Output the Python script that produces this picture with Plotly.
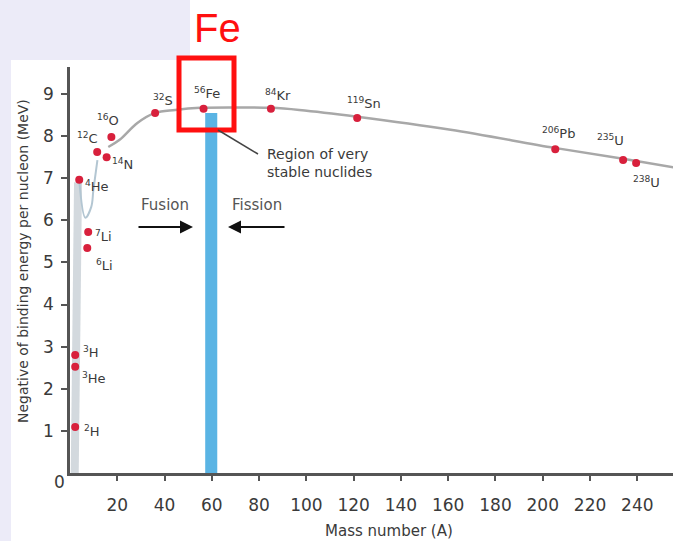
import plotly.graph_objects as go

# ---------------- data ----------------
nuclides = ["2H", "3H", "3He", "4He", "7Li", "6Li", "12C", "14N", "16O",
            "32S", "56Fe", "84Kr", "119Sn", "206Pb", "235U", "238U"]
label_text = ["<sup>2</sup>H", "<sup>3</sup>H", "<sup>3</sup>He", "<sup>4</sup>He",
              "<sup>7</sup>Li", "<sup>6</sup>Li", "<sup>12</sup>C", "<sup>14</sup>N",
              "<sup>16</sup>O", "<sup>32</sup>S", "<sup>56</sup>Fe", "<sup>84</sup>Kr",
              "<sup>119</sup>Sn", "<sup>206</sup>Pb", "<sup>235</sup>U", "<sup>238</sup>U"]
mass_number = [2.2, 2.2, 2.2, 3.9, 7.7, 7.3, 11.5, 15.5, 17.5,
               36, 56.5, 85, 121.5, 205.3, 234, 239.5]
binding = [1.09, 2.80, 2.52, 6.96, 5.72, 5.34, 7.62, 7.50, 7.98,
           8.55, 8.65, 8.65, 8.43, 7.69, 7.43, 7.36]

curve_A = [16.2, 21, 28.5, 36, 44.5, 55, 70, 85, 97, 121.5, 161, 205, 234, 257]
curve_E = [7.74, 7.91, 8.31, 8.55, 8.62, 8.67, 8.68, 8.67, 8.62, 8.46, 8.15, 7.72, 7.46, 7.24]

band_A = [2.0, 2.4, 3.4]
band_E = [0.0, 3.0, 6.9]

loop_A = [3.9, 6.5, 9.0, 9.9, 11.6]
loop_E = [6.96, 6.06, 6.32, 6.72, 7.43]

stable_A = [57.2, 62.3]
stable_E_top = 8.55

x_ticks = [20, 40, 60, 80, 100, 120, 140, 160, 180, 200, 220, 240]
y_ticks = [1, 2, 3, 4, 5, 6, 7, 8, 9]

# label offsets in pixels (dx, dy downward)
label_dx = [17, 16, 19, 18, 15, 17, -10, 16, -3, 8, 3, 7, 7, 3, -13, 10]
label_dy = [4, -3, 11, 6, 4, 17, -14, 7, -17, -13, -16, -14, -15, -16, -20, 19]

# ---------------- layout helpers ----------------
W, H = 679, 541
L, R, T, B = 70, 6, 67, 68
PW, PH = W - L - R, H - T - B


def px(x):
    return (x - L) / PW


def py(y):
    return (H - B - y) / PH


FONT = "DejaVu Sans"
TXT = "#3a3a3a"

fig = go.Figure()

fig.add_trace(go.Scatter(x=band_A, y=band_E, mode="lines",
                         line=dict(color="#d3d9de", width=8), hoverinfo="skip"))
fig.add_trace(go.Scatter(x=loop_A, y=loop_E, mode="lines", line_shape="spline",
                         line=dict(color="#b3c6d2", width=2), hoverinfo="skip"))
fig.add_trace(go.Scatter(x=curve_A, y=curve_E, mode="lines", line_shape="spline",
                         line=dict(color="#a8a8a8", width=2.5), hoverinfo="skip"))
fig.add_trace(go.Scatter(x=mass_number, y=binding, mode="markers", text=nuclides,
                         marker=dict(color="#d8203c", size=8), hoverinfo="text"))

shapes = []
# lavender background L-shape
shapes.append(dict(type="rect", xref="paper", yref="paper", x0=px(0), x1=px(190),
                   y0=py(60), y1=py(0), fillcolor="#ecebf8", line_width=0, layer="below"))
shapes.append(dict(type="rect", xref="paper", yref="paper", x0=px(0), x1=px(11),
                   y0=py(541), y1=py(0), fillcolor="#ecebf8", line_width=0, layer="below"))
# stable region band
shapes.append(dict(type="rect", xref="x", yref="y", x0=stable_A[0], x1=stable_A[1],
                   y0=0, y1=stable_E_top, fillcolor="#5ab4e4", line_width=0, layer="below"))
# Fe box
shapes.append(dict(type="rect", xref="paper", yref="paper", x0=px(179), x1=px(234),
                   y0=py(130), y1=py(58), line=dict(color="#ff1010", width=5)))
# leader line
shapes.append(dict(type="line", xref="paper", yref="paper", x0=px(218), y0=py(130),
                   x1=px(258), y1=py(154), line=dict(color="#444", width=1.5)))

annotations = []
for t, a, e, dx, dy in zip(label_text, mass_number, binding, label_dx, label_dy):
    annotations.append(dict(x=a, y=e, xref="x", yref="y", text=t, showarrow=False,
                            xanchor="center", yanchor="middle",
                            xshift=dx, yshift=-dy, font=dict(family=FONT, size=13, color=TXT)))


def note(x, y, text, size, color=TXT, family=FONT, **kw):
    d = dict(x=px(x), y=py(y), xref="paper", yref="paper", text=text, showarrow=False,
             xanchor="center", yanchor="middle",
             font=dict(family=family, size=size, color=color))
    d.update(kw)
    return d


annotations += [
    note(217, 28, "Fe", 40, color="#ff1010", family="Liberation Sans"),
    note(265, 163, "Region of very<br>stable nuclides", 14, xanchor="left", align="left"),
    note(165, 205, "Fusion", 15, color="#555"),
    note(257, 205, "Fission", 15, color="#555"),
    note(59, 482, "0", 17),
    note(389, 531, "Mass number (A)", 15),
    note(23, 261, "Negative of binding energy per nucleon (MeV)", 14, textangle=-90),
    dict(x=px(193), y=py(227), xref="paper", yref="paper", ax=137 - 193, ay=0,
         axref="pixel", ayref="pixel", text="", showarrow=True, arrowhead=2,
         arrowsize=1.3, arrowwidth=2, arrowcolor="#111"),
    dict(x=px(228), y=py(227), xref="paper", yref="paper", ax=286 - 228, ay=0,
         axref="pixel", ayref="pixel", text="", showarrow=True, arrowhead=2,
         arrowsize=1.3, arrowwidth=2, arrowcolor="#111"),
]

fig.update_layout(
    width=W, height=H, margin=dict(l=L, r=R, t=T, b=B),
    paper_bgcolor="white", plot_bgcolor="white", showlegend=False,
    shapes=shapes, annotations=annotations,
    xaxis=dict(range=[0, 255.1], tickvals=x_ticks, showgrid=False, zeroline=False,
               showline=True, linecolor="#555", linewidth=2.5, ticks="outside",
               ticklen=5, tickwidth=2, tickcolor="#555", ticklabelstandoff=10,
               tickfont=dict(family=FONT, size=17, color=TXT)),
    yaxis=dict(range=[0, 9.64], tickvals=y_ticks, showgrid=False, zeroline=False,
               showline=True, linecolor="#555", linewidth=2.5, ticks="outside",
               ticklen=6, tickwidth=2, tickcolor="#555", ticklabelstandoff=4,
               tickfont=dict(family=FONT, size=17, color=TXT)),
)

fig.write_html("out.html")
